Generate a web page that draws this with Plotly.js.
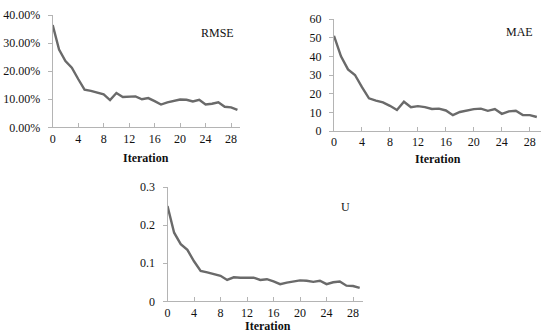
<!DOCTYPE html>
<html>
<head>
<meta charset="utf-8">
<script src="https://cdn.plot.ly/plotly-3.0.1.min.js"></script>
<style>html,body{margin:0;padding:0;background:#fff;}#chart{width:550px;height:336px;}</style>
</head>
<body>
<div id="chart"></div>
<script>
const iterations = Array.from({length: 30}, (_, i) => i);
const rmse = [0.364, 0.277, 0.236, 0.212, 0.172, 0.134, 0.130, 0.123, 0.117, 0.097, 0.122, 0.108, 0.110, 0.110, 0.100, 0.104, 0.093, 0.081, 0.089, 0.093, 0.099, 0.098, 0.092, 0.098, 0.081, 0.084, 0.089, 0.073, 0.071, 0.062];
const mae = [51, 40, 33, 30, 23.5, 17.5, 16.3, 15.3, 13.5, 11.3, 15.7, 12.7, 13.3, 12.8, 11.8, 12, 11, 8.5, 10.2, 11, 11.7, 12, 10.8, 11.8, 9.2, 10.5, 10.8, 8.5, 8.5, 7.5];
const uStat = [0.25, 0.18, 0.15, 0.135, 0.105, 0.08, 0.076, 0.071, 0.067, 0.056, 0.063, 0.062, 0.062, 0.062, 0.056, 0.058, 0.052, 0.045, 0.049, 0.052, 0.055, 0.054, 0.051, 0.054, 0.045, 0.050, 0.052, 0.041, 0.040, 0.035];
const panelLabels = ['RMSE', 'MAE', 'U'];
const xTitle = 'Iteration';
const xTickVals = [0, 4, 8, 12, 16, 20, 24, 28];

const W = 550, H = 336;
const serif = 'Liberation Serif';
const lineStyle = {color: '#6a6a6a', width: 2.4};
const axisColor = '#b4b4b4';
const textColor = '#111';

function xAxis(x0, x1, xmax, anchor) {
  return {
    domain: [x0 / W, x1 / W], anchor: anchor, range: [0, xmax],
    tickvals: xTickVals, ticks: 'inside', ticklen: 4, tickcolor: axisColor,
    ticklabelstandoff: 0,
    showline: true, linecolor: axisColor, linewidth: 1, showgrid: false, zeroline: false,
    tickfont: {family: serif, size: 12, color: textColor}
  };
}
function yAxis(yTop, yBot, range, dtick, fmt, anchor) {
  const a = {
    domain: [1 - yBot / H, 1 - yTop / H], anchor: anchor, range: range, dtick: dtick,
    ticks: 'outside', ticklen: 4, tickcolor: axisColor,
    ticklabelstandoff: 5,
    showline: true, linecolor: axisColor, linewidth: 1, showgrid: false, zeroline: false,
    tickfont: {family: serif, size: 12, color: textColor}
  };
  if (fmt) a.tickformat = fmt;
  return a;
}

const traces = [
  {x: iterations, y: rmse, xaxis: 'x', yaxis: 'y', mode: 'lines', line: lineStyle, name: panelLabels[0]},
  {x: iterations, y: mae, xaxis: 'x2', yaxis: 'y2', mode: 'lines', line: lineStyle, name: panelLabels[1]},
  {x: iterations, y: uStat, xaxis: 'x3', yaxis: 'y3', mode: 'lines', line: lineStyle, name: panelLabels[2]}
];

function label(text, px, py, bold) {
  return {text: bold ? '<b>' + text + '</b>' : text, xref: 'paper', yref: 'paper', x: px / W, y: 1 - py / H,
    xanchor: 'center', yanchor: 'middle', showarrow: false,
    font: {family: serif, size: 12, color: textColor}};
}

const layout = {
  width: W, height: H,
  margin: {l: 0, r: 0, t: 0, b: 0},
  paper_bgcolor: '#fff', plot_bgcolor: '#fff',
  showlegend: false,
  xaxis: xAxis(52.7, 240, 29.4, 'y'),
  yaxis: yAxis(15, 127.3, [0, 0.4], 0.1, '.2%', 'x'),
  xaxis2: xAxis(334, 541, 29.6, 'y2'),
  yaxis2: yAxis(19, 131, [0, 60], 10, null, 'x2'),
  xaxis3: xAxis(167.5, 363, 29.5, 'y3'),
  yaxis3: yAxis(187, 301.3, [0, 0.3], 0.1, null, 'x3'),
  annotations: [
    label(panelLabels[0], 217.7, 33.3),
    label(panelLabels[1], 519, 32.3),
    label(panelLabels[2], 345, 207),
    label(xTitle, 146, 157.5, true),
    label(xTitle, 438.3, 158.5, true),
    label(xTitle, 268.3, 325.5, true)
  ]
};

Plotly.newPlot('chart', traces, layout, {displayModeBar: false, staticPlot: true});
</script>
</body>
</html>
